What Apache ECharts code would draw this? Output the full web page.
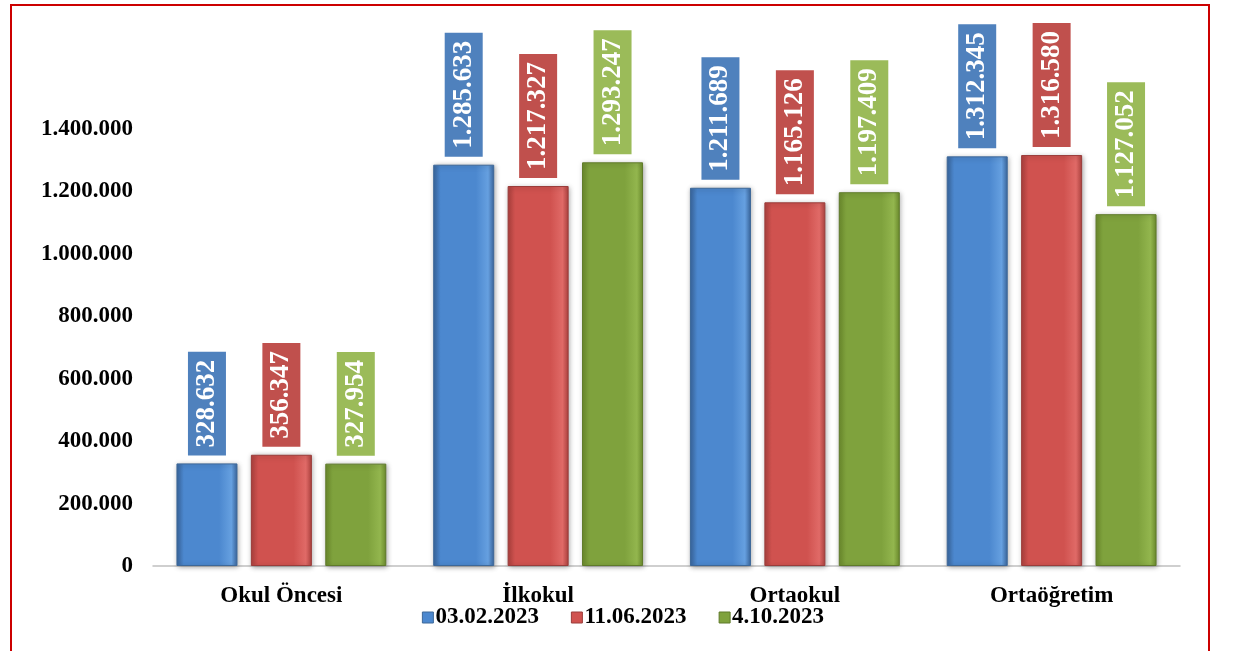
<!DOCTYPE html>
<html><head><meta charset="utf-8">
<script src="https://cdn.jsdelivr.net/npm/echarts@6/dist/echarts.min.js"></script>
<style>html,body{margin:0;padding:0;background:#fff}#c{width:1246px;height:651px}</style>
</head><body><div id="c"></div>
<script>
const categories = ['Okul Öncesi', 'İlkokul', 'Ortaokul', 'Ortaöğretim'];
const seriesNames = ['03.02.2023', '11.06.2023', '4.10.2023'];
const s1 = [328632, 1285633, 1211689, 1312345];
const s2 = [356347, 1217327, 1165126, 1316580];
const s3 = [327954, 1293247, 1197409, 1127052];
const yTicks = [0, 200000, 400000, 600000, 800000, 1000000, 1200000, 1400000];

const fmt = v => String(v).replace(/\B(?=(\d{3})+(?!\d))/g, '.');
const font = '"Liberation Serif","Times New Roman",serif';

const styles = [
  {label:'#4F81BD', dark:'#3A679F', mid:'#4C88CF', light:'#66A0E0', border:'#3D6899'},
  {label:'#C0504D', dark:'#B0423F', mid:'#D0524F', light:'#E06A67', border:'#9A3C3A'},
  {label:'#9BBB59', dark:'#6E8E2E', mid:'#7FA23D', light:'#93B64E', border:'#5F7A2A'}
];
const data = [s1, s2, s3];

const chart = echarts.init(document.getElementById('c'));
chart.setOption({
  backgroundColor: '#fff',
  animation: false,
  graphic: [{type:'rect', shape:{x:11, y:5, width:1198, height:660}, style:{fill:'none', stroke:'#CC0000', lineWidth:2}}],
  grid: {left:153, right:66, top:129, bottom:85},
  legend: {
    data: seriesNames.map((n,i)=>({name:n, itemStyle:{color:styles[i].mid, borderColor:styles[i].border, borderWidth:1}})),
    bottom: 17, left: 'center', itemWidth: 11, itemHeight: 11, itemGap: 32,
    icon: 'rect',
    textStyle: {fontFamily: font, fontWeight: 'bold', fontSize: 23, color: '#000', padding:[0,0,0,-3]}
  },
  xAxis: {
    type: 'category', data: categories,
    axisLine: {lineStyle:{color:'#C0C0C0', width:1.5}},
    axisTick: {show:false},
    axisLabel: {fontFamily: font, fontWeight:'bold', fontSize: 23, color:'#000', margin: 19}
  },
  yAxis: {
    type: 'value', min: 0, max: 1400000, interval: 200000,
    axisLine: {show:false}, axisTick:{show:false}, splitLine:{show:false},
    axisLabel: {fontFamily: font, fontWeight:'bold', fontSize: 23, color:'#000', margin: 20, formatter: v => fmt(v)}
  },
  series: data.map((arr, i) => ({
    name: seriesNames[i], type: 'bar', data: arr, barWidth: 61, barGap: '22%',
    itemStyle: {
      color: new echarts.graphic.LinearGradient(0,0,1,0,[
        {offset:0, color:styles[i].dark},{offset:0.12, color:styles[i].mid},
        {offset:0.7, color:styles[i].mid},{offset:0.9, color:styles[i].light},{offset:1, color:styles[i].dark}]),
      borderColor: styles[i].border, borderWidth: 1,
      shadowColor: 'rgba(0,0,0,0.35)', shadowBlur: 5, shadowOffsetX: 1, shadowOffsetY: 1
    },
    label: {
      show: true, position: 'top', rotate: 90, align: 'left', verticalAlign: 'middle', distance: 8,
      formatter: p => fmt(p.value),
      fontFamily: font, fontWeight: 'bold', fontSize: 27, lineHeight: 28, color: '#fff',
      backgroundColor: styles[i].label, padding: [6, 8, 4, 8]
    }
  }))
});
</script></body></html>
